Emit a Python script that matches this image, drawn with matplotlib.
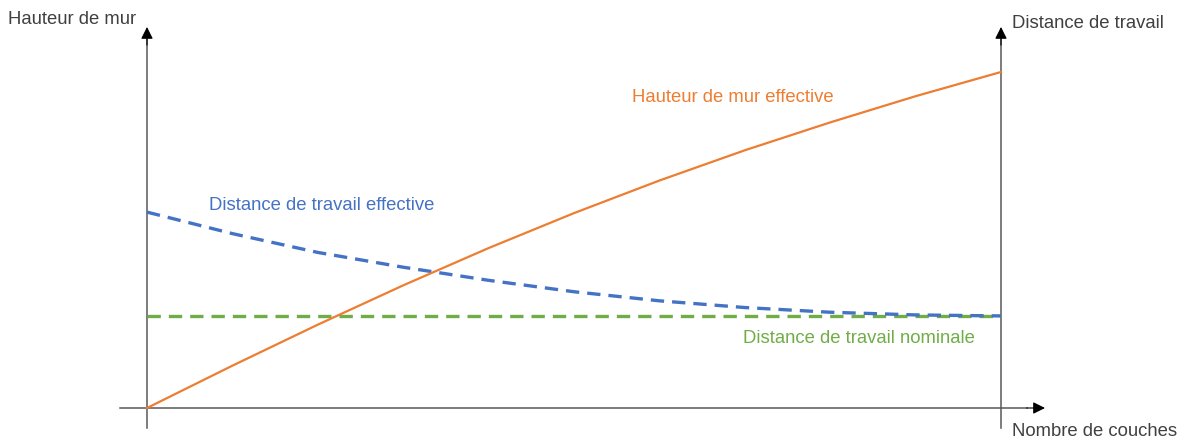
import numpy as np
import matplotlib.pyplot as plt

plt.rcParams['font.family'] = ['Liberation Sans', 'DejaVu Sans']

# schematic values (arbitrary units, 0..100)
couches = np.arange(0, 11)
hauteur_eff = [0, 12.6, 24.8, 36.5, 47.6, 58.0, 67.7, 76.7, 85.0, 92.8, 100]
distance_eff = [58.3, 51.9, 46.3, 41.9, 38.0, 34.6, 31.9, 29.9, 28.5, 27.7, 27.4]
distance_nom = [27.4] * len(couches)

orange = '#ED7D31'
blue = '#4472C4'
green = '#70AD47'
grey = '#595959'
txt = '#404040'

fig = plt.figure(figsize=(11.84, 4.43), dpi=100)
ax = fig.add_axes([0, 0, 1, 1])
ax.set_xlim(-147 / 85.4, (1184 - 147) / 85.4)
ax.set_ylim(-35 / 3.36, 408 / 3.36)
ax.axis('off')

# axes with arrows
ax.plot([0, 0], [-5.95, 110], color=grey, lw=1.1)
ax.plot([10, 10], [-5.95, 110], color=grey, lw=1.1)
ax.plot([-0.316, 10.3], [0, 0], color=grey, lw=1.1)
head = dict(arrowstyle='-|>', mutation_scale=18, color='black', lw=0.8,
            shrinkA=0, shrinkB=0)
ax.annotate('', xy=(0, 113.4), xytext=(0, 108), arrowprops=head)
ax.annotate('', xy=(10, 113.4), xytext=(10, 108), arrowprops=head)
ax.annotate('', xy=(10.515, 0), xytext=(10.3, 0), arrowprops=head)

# curves
ax.plot(couches, distance_nom, color=green, lw=2.4, dashes=(4, 2.4))
ax.plot(couches, distance_eff, color=blue, lw=2.4, dashes=(4, 2.4))
ax.plot(couches, hauteur_eff, color=orange, lw=1.6)

fs = 13.3
ax.text(-1.627, 115.5, 'Hauteur de mur', color=txt, fontsize=fs, va='center')
ax.text(10.13, 114.3, 'Distance de travail', color=txt, fontsize=fs, va='center')
ax.text(10.13, -7.1, 'Nombre de couches', color=txt, fontsize=fs, va='center')
ax.text(0.726, 60.4, 'Distance de travail effective', color=blue, fontsize=fs,
        va='center')
ax.text(5.679, 92.3, 'Hauteur de mur effective', color=orange, fontsize=fs,
        va='center')
ax.text(6.979, 20.8, 'Distance de travail nominale', color=green, fontsize=fs,
        va='center')

plt.savefig('out.png', dpi=100)
